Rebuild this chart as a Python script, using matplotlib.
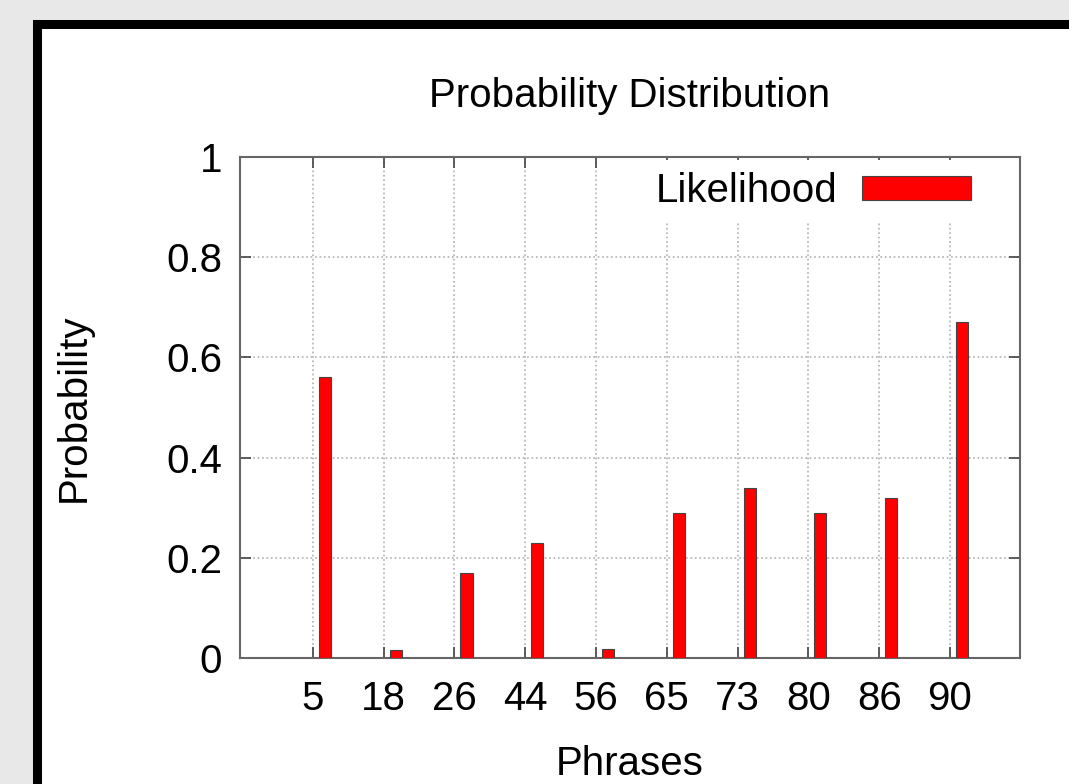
import matplotlib
matplotlib.use("Agg")
import matplotlib.pyplot as plt
from matplotlib.patches import Rectangle
import numpy as np

# data
phrases = ["5", "18", "26", "44", "56", "65", "73", "80", "86", "90"]
likelihood = [0.56, 0.016, 0.17, 0.23, 0.018, 0.29, 0.34, 0.29, 0.32, 0.67]
y_ticks = [0, 0.2, 0.4, 0.6, 0.8, 1]
y_tick_labels = ["0", "0.2", "0.4", "0.6", "0.8", "1"]

plt.rcParams['font.family'] = ['Liberation Sans', 'DejaVu Sans']

W, H = 1069, 784
fs = 29
fig = plt.figure(figsize=(W / 100, H / 100), dpi=100)
fig.patch.set_facecolor('#e8e8e8')

# white panel with thick black border, running off the right and bottom
panel = Rectangle((37 / W, -0.1), 1.2, 1 - 24 / H + 0.1,
                  transform=fig.transFigure, facecolor='white',
                  edgecolor='black', linewidth=6.5, zorder=-10)
fig.patches.append(panel)

ax = fig.add_axes([240 / W, 1 - 658 / H, 780 / W, 501 / H])
ax.set_zorder(5)
ax.set_facecolor('white')

x = np.arange(len(phrases))
ax.bar(x + 0.17, likelihood, width=0.17, color='#ff0000',
       edgecolor='#444444', linewidth=0.8, label='Likelihood', zorder=3)

ax.set_xlim(-1.03, 9.99)
ax.set_ylim(0, 1)
ax.set_xticks(x)
ax.set_xticklabels(phrases)
ax.set_yticks(y_ticks)
ax.set_yticklabels(y_tick_labels)

ax.tick_params(axis='both', direction='in', length=8, width=1.2,
               colors='#444444', labelcolor='black', labelsize=fs,
               top=True, right=True)
ax.tick_params(axis='x', pad=16)
ax.tick_params(axis='y', pad=13)
ax.grid(True, color='#b0b0b0', linestyle=':', linewidth=1.2, zorder=0)
for s in ax.spines.values():
    s.set_color('#666666')
    s.set_linewidth(1.5)

ax.set_title('Probability Distribution', fontsize=fs, pad=36)
ax.set_xlabel('Phrases', fontsize=fs, labelpad=19)
ax.set_ylabel('Probability', fontsize=fs, labelpad=53)

leg = ax.legend(loc='upper right', bbox_to_anchor=(0.9526, 0.994),
                borderaxespad=0, fontsize=fs, frameon=True,
                handlelength=2.7, handleheight=0.55, handletextpad=0.62,
                markerfirst=False, borderpad=0.3)
leg.get_frame().set_facecolor('white')
leg.get_frame().set_edgecolor('none')
leg.get_frame().set_alpha(1.0)

fig.savefig('out.png', dpi=100, facecolor=fig.get_facecolor())
